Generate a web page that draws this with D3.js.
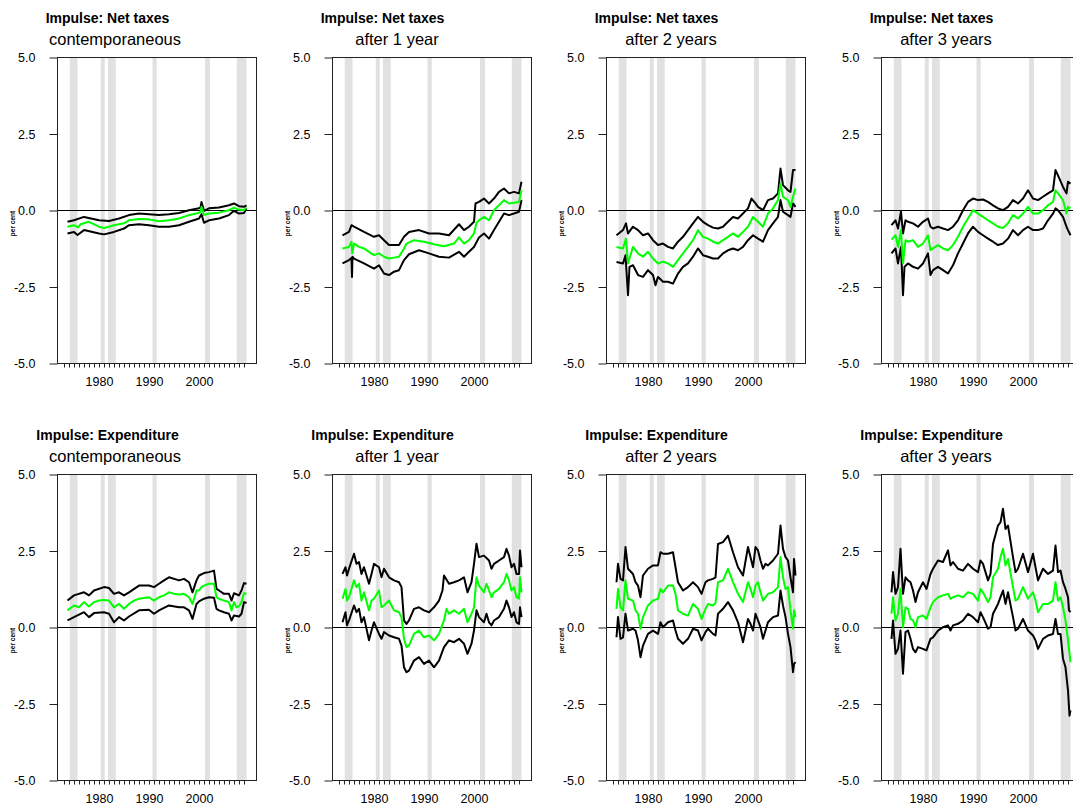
<!DOCTYPE html>
<html>
<head>
<meta charset="utf-8">
<script src="https://cdn.jsdelivr.net/npm/d3@7"></script>
<style>
    body { margin: 0; background: #fff; }
    svg text { font-family: "Liberation Sans", Arial, sans-serif; fill: #000; }
</style>
</head>
<body>
<div id="chart"></div>
<script>

// recession periods (shaded)
var recessions = [[1974.15, 1975.7], [1980.35, 1981.15], [1981.8, 1983.35], [1990.7, 1991.55], [2001.2, 2002.2], [2007.55, 2009.5]];

var impulses = ["Impulse: Net taxes", "Impulse: Expenditure"];
var horizons = ["contemporaneous", "after 1 year", "after 2 years", "after 3 years"];
var yTicks = [-5, -2.5, 0, 2.5, 5];
var xLabelYears = [1980, 1990, 2000];

// Net taxes: median (green) and bands (black), [year, per cent]
var taxMid0 = [[1973.7,-0.53],[1975,-0.48],[1975.8,-0.55],[1976.3,-0.45],[1978,-0.37],[1980,-0.53],[1981,-0.57],[1982,-0.53],[1983,-0.48],[1985,-0.42],[1986,-0.32],[1988,-0.28],[1990,-0.29],[1992,-0.35],[1994,-0.32],[1996,-0.26],[1998,-0.15],[1999.5,-0.1],[2000.3,-0.05],[2000.5,0.12],[2001,-0.15],[2002,-0.1],[2004,-0.07],[2006,0.01],[2007,0.09],[2008,0.03],[2009,0.01],[2009.5,0.1]];
var taxHi0 = [[1973.7,-0.37],[1975,-0.32],[1977,-0.21],[1980,-0.32],[1982,-0.34],[1984,-0.26],[1986,-0.15],[1988,-0.1],[1990,-0.12],[1992,-0.15],[1994,-0.12],[1996,-0.08],[1998,0.01],[2000,0.07],[2000.3,0.1],[2000.5,0.28],[2001,-0.01],[2002,0.07],[2004,0.1],[2006,0.17],[2007,0.23],[2008,0.14],[2009,0.12],[2009.5,0.17]];
var taxLo0 = [[1973.7,-0.75],[1975,-0.7],[1975.7,-0.8],[1977,-0.64],[1980,-0.75],[1981,-0.78],[1983,-0.7],[1985,-0.59],[1986,-0.48],[1988,-0.45],[1990,-0.48],[1992,-0.53],[1994,-0.53],[1996,-0.48],[1998,-0.37],[2000,-0.26],[2000.5,-0.12],[2001,-0.4],[2002,-0.32],[2004,-0.26],[2006,-0.15],[2007,-0.01],[2008,-0.1],[2009,-0.08],[2009.5,0.07]];

var taxMid1 = [[1973.7,-1.24],[1975,-1.19],[1975.5,-1.02],[1975.65,-1.4],[1976,-1.08],[1977,-1.19],[1978,-1.24],[1979,-1.35],[1980,-1.46],[1981,-1.4],[1982,-1.51],[1983,-1.57],[1984,-1.54],[1985,-1.51],[1986,-1.24],[1986.5,-1.08],[1988,-0.97],[1990,-1.02],[1992,-1.1],[1994,-1.17],[1996,-1.08],[1997,-0.88],[1998,-1.08],[1999,-0.97],[2000,-0.75],[2000.5,-0.4],[2001,-0.32],[2002,-0.21],[2003,-0.32],[2004,0.01],[2005,0.17],[2006,0.34],[2007,0.23],[2008,0.25],[2009,0.28],[2009.5,0.66]];
var taxHi1 = [[1973.7,-0.81],[1975,-0.7],[1975.5,-0.48],[1976,-0.53],[1978,-0.7],[1980,-0.86],[1981,-0.81],[1982,-0.97],[1983,-1.13],[1985,-1.13],[1986,-0.86],[1987,-0.7],[1989,-0.64],[1991,-0.75],[1993,-0.75],[1995,-0.81],[1997,-0.45],[1998,-0.64],[1999,-0.53],[2000,-0.37],[2000.3,0.23],[2001,0.28],[2002,0.39],[2003,0.23],[2004,0.39],[2005,0.61],[2006,0.72],[2007,0.56],[2008,0.61],[2009,0.56],[2009.5,0.94]];
var taxLo1 = [[1973.7,-1.73],[1975,-1.62],[1975.5,-1.55],[1975.6,-2.17],[1975.7,-1.51],[1976,-1.57],[1978,-1.73],[1980,-1.9],[1981,-1.79],[1982,-2.06],[1983,-2.11],[1984,-2.0],[1985,-1.95],[1986,-1.62],[1987,-1.43],[1989,-1.3],[1991,-1.4],[1993,-1.51],[1995,-1.54],[1997,-1.35],[1998,-1.51],[1999,-1.35],[2000,-1.19],[2001,-0.88],[2002,-0.75],[2003,-0.92],[2004,-0.64],[2005,-0.37],[2006,-0.1],[2007,-0.15],[2008,-0.1],[2009,-0.04],[2009.5,0.34]];

var taxMid2 = [[1973.7,-1.19],[1975,-1.24],[1975.6,-0.92],[1976,-1.73],[1977,-1.19],[1978,-1.4],[1979,-1.51],[1980,-1.35],[1981,-1.57],[1982,-1.73],[1983,-1.67],[1984,-1.73],[1985,-1.84],[1986,-1.62],[1987,-1.4],[1988,-1.19],[1989,-0.97],[1990,-0.64],[1991,-0.86],[1992,-0.92],[1993,-1.02],[1994,-1.08],[1995,-0.97],[1996,-0.86],[1997,-0.75],[1998,-0.86],[1999,-0.7],[2000,-0.53],[2001,-0.21],[2002,-0.37],[2003,-0.53],[2004,-0.1],[2005,0.07],[2006,0.34],[2006.5,0.88],[2007,0.45],[2008,0.34],[2008.5,0.12],[2009,0.45],[2009.5,0.72]];
var taxHi2 = [[1973.7,-0.81],[1975,-0.64],[1975.6,-0.42],[1976,-0.75],[1977,-0.53],[1978,-0.64],[1979,-0.81],[1980,-0.75],[1981,-0.97],[1982,-1.13],[1983,-1.08],[1984,-1.19],[1985,-1.24],[1986,-1.02],[1987,-0.86],[1988,-0.64],[1989,-0.42],[1990,-0.21],[1991,-0.37],[1992,-0.48],[1993,-0.56],[1994,-0.59],[1995,-0.53],[1996,-0.37],[1997,-0.21],[1998,-0.26],[1999,-0.1],[2000,0.07],[2000.7,0.39],[2001.5,0.23],[2002,0.12],[2003,0.01],[2004,0.34],[2005,0.39],[2006,0.56],[2006.5,1.37],[2007,0.83],[2008,0.66],[2008.5,0.61],[2009,1.32],[2009.5,1.32]];
var taxLo2 = [[1973.7,-1.68],[1975,-1.73],[1975.5,-1.46],[1976,-2.77],[1976.3,-1.84],[1977,-1.79],[1978,-2.11],[1979,-2.17],[1980,-1.95],[1981,-2.11],[1981.5,-2.44],[1982,-2.17],[1983,-2.33],[1984,-2.33],[1985,-2.39],[1986,-2.06],[1987,-1.84],[1988,-1.73],[1989,-1.51],[1990,-1.24],[1991,-1.46],[1992,-1.51],[1993,-1.57],[1994,-1.57],[1995,-1.4],[1996,-1.3],[1997,-1.24],[1998,-1.3],[1999,-1.19],[2000,-0.97],[2001,-0.81],[2002,-0.92],[2003,-1.02],[2004,-0.64],[2005,-0.42],[2006,-0.21],[2006.5,0.34],[2007,-0.04],[2008,-0.15],[2008.5,-0.21],[2009,0.23],[2009.5,0.12]];

var taxMid3 = [[1973.7,-0.95],[1974.5,-0.81],[1975,-1.19],[1975.6,-0.64],[1976,-1.73],[1976.5,-0.97],[1977,-1.02],[1978,-0.97],[1979,-1.19],[1980,-1.08],[1981,-0.81],[1981.5,-1.3],[1982,-1.24],[1983,-1.13],[1984,-1.24],[1985,-1.3],[1986,-1.13],[1987,-0.86],[1988,-0.53],[1989,-0.26],[1990,0.01],[1991,-0.1],[1992,-0.21],[1993,-0.32],[1994,-0.42],[1995,-0.53],[1996,-0.57],[1997,-0.42],[1998,-0.15],[1999,-0.26],[2000,-0.1],[2001,0.12],[2002,-0.1],[2003,-0.1],[2004,0.01],[2005,0.17],[2006,0.28],[2006.5,0.66],[2007,0.56],[2008,0.34],[2008.7,-0.1],[2009,0.12],[2009.5,0.07]];
var taxHi3 = [[1973.7,-0.48],[1974.5,-0.32],[1975,-0.59],[1975.6,-0.04],[1976,-0.75],[1976.5,-0.32],[1977,-0.37],[1978,-0.42],[1979,-0.53],[1980,-0.37],[1981,-0.26],[1981.5,-0.53],[1982,-0.59],[1983,-0.53],[1984,-0.59],[1985,-0.64],[1986,-0.53],[1987,-0.32],[1988,0.01],[1989,0.28],[1990,0.39],[1991,0.34],[1992,0.36],[1993,0.28],[1994,0.17],[1995,0.07],[1996,0.01],[1997,0.12],[1998,0.34],[1999,0.23],[2000,0.39],[2001,0.66],[2002,0.39],[2003,0.34],[2004,0.45],[2005,0.56],[2006,0.66],[2006.5,1.32],[2007,1.15],[2008,0.77],[2008.7,0.56],[2009,0.94],[2009.5,0.88]];
var taxLo3 = [[1973.7,-1.4],[1974.5,-1.24],[1975,-1.73],[1975.6,-1.19],[1976,-2.77],[1976.3,-1.84],[1977,-1.73],[1978,-1.84],[1979,-1.9],[1980,-1.73],[1981,-1.4],[1981.5,-2.11],[1982,-1.95],[1983,-1.84],[1984,-1.95],[1985,-2.06],[1986,-1.79],[1987,-1.4],[1988,-1.08],[1989,-0.75],[1990,-0.53],[1991,-0.7],[1992,-0.81],[1993,-0.92],[1994,-1.02],[1995,-1.13],[1996,-1.08],[1997,-0.92],[1998,-0.64],[1999,-0.81],[2000,-0.64],[2001,-0.53],[2002,-0.64],[2003,-0.64],[2004,-0.59],[2005,-0.32],[2006,-0.1],[2006.5,0.07],[2007,0.01],[2008,-0.21],[2008.7,-0.53],[2009,-0.64],[2009.5,-0.81]];

// Expenditure
var expMid0 = [[1973.7,0.56],[1975,0.72],[1976,0.66],[1977,0.83],[1978,0.69],[1979,0.83],[1980,0.88],[1981,0.9],[1982,0.88],[1983,0.66],[1984,0.77],[1985,0.61],[1986,0.77],[1987,0.88],[1988,0.94],[1990,0.99],[1991,0.88],[1992,0.99],[1993,1.05],[1994,1.15],[1995,1.1],[1996,1.08],[1997,1.1],[1998,0.99],[1998.7,0.77],[1999.5,1.21],[2000,1.21],[2000.5,1.32],[2001,1.37],[2002,1.43],[2003,1.43],[2003.5,0.99],[2004,0.94],[2005,0.88],[2006,0.83],[2006.5,0.56],[2007,0.83],[2007.5,0.66],[2008,0.69],[2008.5,0.83],[2009,1.12],[2009.5,1.1]];
var expHi0 = [[1973.7,0.88],[1975,1.05],[1977,1.15],[1978,1.05],[1979,1.21],[1981,1.32],[1982,1.29],[1983,1.1],[1984,1.15],[1985,1.05],[1986,1.15],[1988,1.37],[1990,1.37],[1991,1.32],[1992,1.43],[1993,1.54],[1994,1.64],[1996,1.54],[1997,1.59],[1998,1.48],[1998.7,1.15],[1999.5,1.54],[2000,1.7],[2001,1.78],[2002,1.81],[2003,1.86],[2003.5,1.26],[2004,1.21],[2005,1.1],[2006,1.1],[2006.5,0.88],[2007,1.12],[2008,1.05],[2008.5,1.21],[2009,1.45],[2009.5,1.43]];
var expLo0 = [[1973.7,0.23],[1975,0.34],[1977,0.5],[1978,0.34],[1979,0.47],[1981,0.5],[1982,0.45],[1983,0.17],[1984,0.34],[1985,0.23],[1986,0.36],[1988,0.56],[1990,0.58],[1991,0.45],[1992,0.56],[1994,0.72],[1996,0.66],[1997,0.66],[1998,0.56],[1998.7,0.28],[1999.5,0.77],[2000,0.85],[2001,0.94],[2002,0.99],[2003,0.97],[2003.5,0.61],[2004,0.56],[2005,0.5],[2006,0.45],[2006.5,0.23],[2007,0.39],[2008,0.36],[2008.5,0.45],[2009,0.83],[2009.5,0.8]];

var expMid1 = [[1973.7,0.94],[1974.3,1.26],[1974.6,0.88],[1975,0.99],[1976,1.54],[1976.5,1.32],[1977,1.43],[1977.5,0.88],[1978,1.15],[1979,0.56],[1979.5,0.88],[1980,0.94],[1981,1.21],[1981.5,0.66],[1982,0.72],[1983,0.88],[1984,0.56],[1985,0.5],[1985.5,0.34],[1986,-0.37],[1986.5,-0.64],[1987,-0.59],[1988,-0.21],[1989,-0.1],[1990,-0.32],[1991,-0.26],[1992,-0.42],[1993,-0.21],[1994,0.23],[1994.5,0.61],[1995,0.45],[1996,0.56],[1997,0.45],[1998,0.61],[1998.7,0.17],[1999.5,0.45],[2000,0.66],[2000.5,1.64],[2001,1.37],[2002,1.15],[2002.5,1.43],[2003,1.21],[2003.5,0.99],[2004,1.15],[2005,1.26],[2006,1.48],[2006.5,1.75],[2007,1.54],[2007.5,1.21],[2008,1.32],[2008.5,0.99],[2009,0.94],[2009.2,1.64],[2009.5,1.15]];
var expHi1 = [[1973.7,1.75],[1974.3,1.97],[1974.6,1.7],[1975,1.92],[1976,2.41],[1976.5,2.08],[1977,2.14],[1977.5,1.75],[1978,1.97],[1979,1.43],[1979.5,1.75],[1980,2.08],[1981,1.97],[1981.5,1.64],[1982,1.92],[1983,1.64],[1984,1.54],[1985,1.48],[1985.5,1.32],[1986,0.23],[1986.5,0.12],[1987,0.23],[1988,0.61],[1989,0.66],[1990,0.56],[1991,0.5],[1992,0.66],[1993,0.88],[1993.7,1.21],[1994,1.7],[1995,1.43],[1996,1.48],[1997,1.54],[1998,1.64],[1998.7,1.15],[1999.5,1.48],[2000,2.08],[2000.5,2.74],[2001,2.3],[2002,2.35],[2003,2.19],[2003.5,1.92],[2004,2.08],[2005,2.19],[2006,2.3],[2006.5,2.57],[2007,2.35],[2007.5,1.97],[2008,2.08],[2008.5,1.75],[2009,1.75],[2009.2,2.52],[2009.5,1.97]];
var expLo1 = [[1973.7,0.17],[1974.3,0.5],[1974.6,0.07],[1975,0.23],[1976,0.72],[1976.5,0.5],[1977,0.61],[1977.5,0.17],[1978,0.34],[1979,-0.42],[1979.5,-0.1],[1980,0.17],[1981,-0.21],[1981.5,-0.37],[1982,-0.15],[1983,-0.26],[1984,-0.32],[1985,-0.37],[1985.5,-0.59],[1986,-1.3],[1986.5,-1.46],[1987,-1.41],[1988,-1.08],[1989,-0.97],[1990,-1.19],[1991,-1.08],[1992,-1.3],[1993,-1.08],[1994,-0.64],[1995,-0.42],[1996,-0.48],[1997,-0.37],[1998,-0.53],[1998.7,-0.86],[1999.5,-0.53],[2000,-0.1],[2000.5,0.56],[2001,0.34],[2002,0.17],[2002.5,0.45],[2003,0.17],[2003.5,0.07],[2004,0.23],[2005,0.34],[2006,0.61],[2006.5,0.88],[2007,0.66],[2007.5,0.34],[2008,0.5],[2008.5,0.17],[2009,0.12],[2009.2,0.66],[2009.5,0.34]];

var expMid2 = [[1973.7,0.61],[1974,1.26],[1974.5,0.66],[1975,0.56],[1975.5,1.54],[1976,0.94],[1977,0.88],[1977.5,0.56],[1978,0.45],[1978.5,-0.04],[1979,0.34],[1980,0.72],[1981,0.88],[1982,0.94],[1982.5,1.26],[1983,1.15],[1984,1.37],[1985,1.37],[1985.5,1.1],[1986,0.56],[1987,0.45],[1988,0.39],[1989,0.77],[1990,0.61],[1990.7,0.28],[1991.5,0.61],[1992,0.77],[1993,0.72],[1993.5,0.8],[1994,1.48],[1995,1.54],[1996,1.92],[1997,1.48],[1998,1.1],[1999,0.83],[2000,1.48],[2000.5,1.26],[2001,0.99],[2001.5,1.37],[2002,1.48],[2002.5,1.15],[2003,0.88],[2003.5,0.99],[2004,1.1],[2005,1.15],[2006,1.32],[2006.5,2.3],[2007,1.64],[2007.5,1.26],[2008,1.32],[2008.5,0.56],[2009,-0.04],[2009.2,0.56],[2009.5,0.34]];
var expHi2 = [[1973.7,1.48],[1974,2.08],[1974.5,1.59],[1975,1.54],[1975.5,2.63],[1976,1.92],[1977,1.75],[1977.5,1.48],[1978,1.37],[1978.5,0.99],[1979,1.7],[1980,1.92],[1981,2.03],[1982,2.03],[1982.5,2.46],[1983,2.41],[1984,2.41],[1985,2.46],[1985.5,1.97],[1986,1.48],[1987,1.21],[1988,1.32],[1989,1.48],[1990,1.32],[1990.7,1.1],[1991.5,1.48],[1992,1.54],[1993,1.59],[1993.5,1.64],[1994,2.73],[1995,2.79],[1996,3.0],[1997,2.46],[1998,1.97],[1999,1.7],[2000,2.63],[2000.5,2.3],[2001,1.97],[2001.5,2.63],[2002,2.52],[2002.5,2.19],[2003,1.92],[2003.5,2.08],[2004,2.03],[2005,2.19],[2006,2.41],[2006.5,3.33],[2007,2.57],[2007.5,2.3],[2008,2.19],[2008.5,1.64],[2009,1.15],[2009.2,2.24],[2009.5,1.7]];
var expLo2 = [[1973.7,-0.32],[1974,0.34],[1974.5,-0.37],[1975,-0.32],[1975.5,0.45],[1976,-0.1],[1977,-0.04],[1977.5,-0.1],[1978,-0.42],[1978.5,-0.97],[1979,-0.59],[1980,-0.21],[1981,-0.1],[1982,-0.21],[1982.5,0.17],[1983,0.01],[1984,0.17],[1985,0.23],[1985.5,-0.1],[1986,-0.37],[1987,-0.53],[1988,-0.37],[1989,-0.04],[1990,-0.1],[1990.7,-0.42],[1991.5,-0.15],[1992,-0.04],[1993,-0.21],[1993.5,-0.26],[1994,0.45],[1995,0.61],[1996,0.83],[1997,0.56],[1998,0.17],[1999,-0.48],[2000,0.28],[2000.5,0.12],[2001,-0.1],[2001.5,0.45],[2002,0.23],[2002.5,0.01],[2003,-0.37],[2003.5,-0.1],[2004,0.17],[2005,0.34],[2006,0.39],[2006.5,1.21],[2007,0.72],[2007.5,0.34],[2008,-0.21],[2008.5,-0.64],[2009,-1.46],[2009.2,-1.19],[2009.5,-1.13]];

var expMid3 = [[1973.7,0.45],[1974,0.99],[1974.5,0.23],[1975,0.45],[1975.5,1.26],[1976,0.01],[1976.5,0.66],[1977,0.61],[1977.5,0.28],[1978,0.23],[1978.5,0.01],[1979,0.34],[1980,0.39],[1980.7,0.28],[1981.5,0.66],[1982,0.83],[1983,0.99],[1984,1.05],[1985,1.1],[1985.5,0.94],[1986,0.99],[1987,1.05],[1988,0.99],[1989,1.15],[1990,1.1],[1991,0.88],[1991.5,1.26],[1992,1.15],[1993,0.83],[1993.5,0.99],[1994,1.64],[1995,1.92],[1995.5,2.3],[1996,2.57],[1996.5,2.03],[1997,2.24],[1998,1.32],[1998.5,0.88],[1999,0.94],[2000,1.32],[2001,0.94],[2002,1.15],[2002.5,0.88],[2003,0.5],[2004,0.77],[2005,0.77],[2006,0.88],[2006.5,1.48],[2007,0.88],[2007.5,0.99],[2008,0.66],[2008.5,0.23],[2009,-0.42],[2009.5,-1.13]];
var expHi3 = [[1973.7,1.15],[1974,1.81],[1974.5,1.1],[1975,1.32],[1975.5,2.57],[1976,1.1],[1976.5,1.64],[1977,1.54],[1977.5,1.48],[1978,1.21],[1978.5,0.83],[1979,1.15],[1980,1.48],[1980.7,1.26],[1981.5,1.75],[1982,1.92],[1983,2.19],[1984,2.14],[1985,2.52],[1985.5,2.03],[1986,2.14],[1987,1.92],[1988,1.86],[1989,2.08],[1990,1.92],[1991,1.81],[1991.5,2.19],[1992,2.08],[1993,1.54],[1993.5,1.75],[1994,2.73],[1995,3.33],[1995.5,3.44],[1996,3.88],[1996.5,3.22],[1997,3.33],[1998,2.3],[1998.5,1.81],[1999,1.92],[2000,2.41],[2001,1.81],[2002,2.41],[2002.5,1.97],[2003,1.54],[2004,1.92],[2005,1.75],[2006,1.86],[2006.5,2.68],[2007,1.81],[2007.5,1.86],[2008,1.48],[2008.5,1.26],[2009,0.99],[2009.2,0.56],[2009.5,0.5]];
var expLo3 = [[1973.7,-0.37],[1974,0.23],[1974.5,-0.86],[1975,-0.7],[1975.5,-0.1],[1976,-1.51],[1976.3,-0.7],[1976.5,-0.15],[1977,-0.1],[1977.5,-0.37],[1978,-0.7],[1978.5,-0.81],[1979,-0.64],[1980,-0.7],[1980.7,-0.75],[1981.5,-0.37],[1982,-0.32],[1983,-0.1],[1984,0.01],[1985,0.07],[1985.5,-0.1],[1986,0.07],[1987,0.12],[1988,0.23],[1989,0.45],[1990,0.34],[1991,0.17],[1991.5,0.5],[1992,0.34],[1993,-0.04],[1993.5,0.01],[1994,0.45],[1995,0.77],[1995.5,0.99],[1996,1.21],[1996.5,0.77],[1997,1.15],[1998,0.34],[1998.5,-0.1],[1999,-0.04],[2000,0.28],[2001,-0.1],[2002,-0.26],[2002.5,-0.42],[2003,-0.7],[2004,-0.37],[2005,-0.26],[2006,-0.21],[2006.5,0.28],[2007,-0.21],[2007.5,-0.21],[2008,-1.02],[2008.5,-1.3],[2009,-2.06],[2009.3,-2.88],[2009.5,-2.71]];

var taxSeries = [[taxMid0, taxHi0, taxLo0], [taxMid1, taxHi1, taxLo1], [taxMid2, taxHi2, taxLo2], [taxMid3, taxHi3, taxLo3]];
var expSeries = [[expMid0, expHi0, expLo0], [expMid1, expHi1, expLo1], [expMid2, expHi2, expLo2], [expMid3, expHi3, expLo3]];


/*
 *  ImpulsePanel - one small multiple
 */

ImpulsePanel = function(_svg, _left, _top, _title, _subtitle, _series) {
    this.svg = _svg;
    this.left = _left;
    this.top = _top;
    this.title = _title;
    this.subtitle = _subtitle;
    this.series = _series;

    this.initVis();
};

ImpulsePanel.prototype.initVis = function() {
    var vis = this;

    vis.width = 199;
    vis.height = 306;

    vis.g = vis.svg.append("g")
        .attr("transform", "translate(" + (vis.left + 0.5) + "," + (vis.top + 0.5) + ")");

    vis.x = d3.scaleLinear().domain([1971.7, 2011.5]).range([0, vis.width]);
    vis.y = d3.scaleLinear().domain([-5, 5]).range([vis.height, 0]);

    // recession shading
    vis.g.selectAll(".recession")
        .data(recessions)
        .enter().append("rect")
        .attr("class", "recession")
        .attr("x", function(d) { return vis.x(d[0]); })
        .attr("y", 0)
        .attr("width", function(d) { return vis.x(d[1]) - vis.x(d[0]); })
        .attr("height", vis.height)
        .attr("fill", "#e1e1e1");

    // zero line
    vis.g.append("line")
        .attr("x1", 0).attr("x2", vis.width)
        .attr("y1", vis.y(0)).attr("y2", vis.y(0))
        .attr("stroke", "#000").attr("stroke-width", 1);

    // frame
    vis.g.append("rect")
        .attr("width", vis.width).attr("height", vis.height)
        .attr("fill", "none").attr("stroke", "#222").attr("stroke-width", 1);

    // y axis
    var yAxis = d3.axisLeft(vis.y)
        .tickValues(yTicks)
        .tickFormat(function(d) { return d.toFixed(1); })
        .tickSize(8)
        .tickPadding(14);
    var ya = vis.g.append("g").call(yAxis);
    ya.select(".domain").remove();
    ya.selectAll("line").attr("stroke", "#222");
    ya.selectAll("text").attr("font-size", "12.5px").attr("font-family", null).attr("fill", "#000");

    // x axis
    var xAxis = d3.axisBottom(vis.x)
        .tickValues(d3.range(1973, 2010))
        .tickFormat(function(d) { return xLabelYears.indexOf(d) >= 0 ? d : ""; })
        .tickSize(4)
        .tickPadding(10);
    var xa = vis.g.append("g")
        .attr("transform", "translate(0," + vis.height + ")")
        .call(xAxis);
    xa.select(".domain").remove();
    xa.selectAll("line").attr("stroke", "#222");
    xa.selectAll("text").attr("font-size", "12.5px").attr("font-family", null).attr("fill", "#000");

    // titles
    vis.g.append("text")
        .attr("x", 50).attr("y", -35)
        .attr("text-anchor", "middle")
        .attr("font-size", "14px").attr("font-weight", "bold")
        .text(vis.title);

    vis.g.append("text")
        .attr("x", vis.subtitle === "contemporaneous" ? 57.5 : 64.5).attr("y", -12.5)
        .attr("text-anchor", "middle")
        .attr("font-size", "16.5px")
        .text(vis.subtitle);

    // y label
    vis.g.append("text")
        .attr("transform", "translate(-43," + (vis.height / 2 + 13) + ") rotate(-90)")
        .attr("text-anchor", "middle")
        .attr("font-size", "6.5px").attr("font-weight", "bold")
        .text("per cent");

    vis.updateVis();
};

ImpulsePanel.prototype.updateVis = function() {
    var vis = this;

    var line = d3.line()
        .x(function(d) { return vis.x(d[0]); })
        .y(function(d) { return vis.y(d[1]); });

    // bands first, median on top
    var order = [vis.series[1], vis.series[2], vis.series[0]];
    var colors = ["#000", "#000", "#00ff00"];

    vis.g.selectAll(".irf")
        .data(order)
        .enter().append("path")
        .attr("class", "irf")
        .attr("d", line)
        .attr("fill", "none")
        .attr("stroke", function(d, i) { return colors[i]; })
        .attr("stroke-width", 2)
        .attr("stroke-linejoin", "round");
};


var svg = d3.select("#chart").append("svg")
    .attr("width", 1073)
    .attr("height", 807);

var panelLefts = [57, 332, 606, 881];
var panelTops = [57, 474];

horizons.forEach(function(h, i) {
    new ImpulsePanel(svg, panelLefts[i], panelTops[0], impulses[0], h, taxSeries[i]);
    new ImpulsePanel(svg, panelLefts[i], panelTops[1], impulses[1], h, expSeries[i]);
});

</script>
</body>
</html>
